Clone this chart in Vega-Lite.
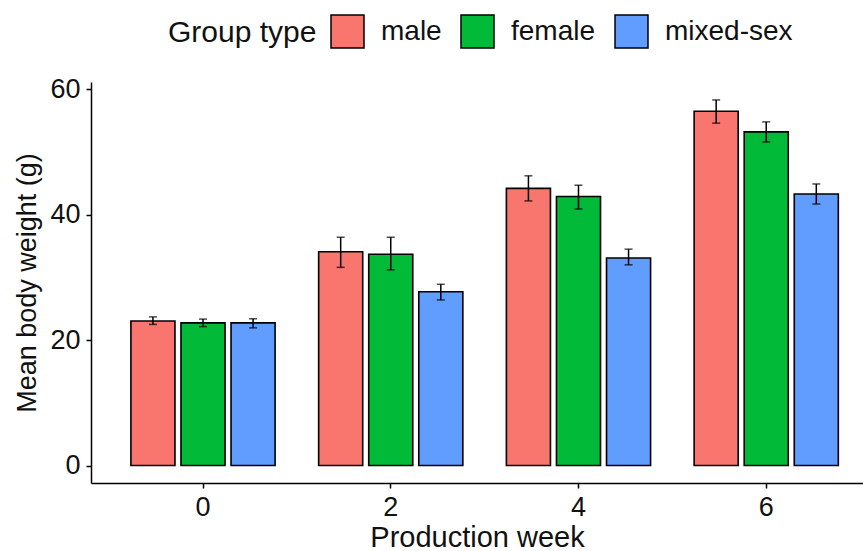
{
  "$schema": "https://vega.github.io/schema/vega-lite/v6.json",
  "autosize": {"type": "none"},
  "padding": {"left": 91, "top": 82, "right": 0, "bottom": 68},
  "width": 772,
  "height": 401,
  "background": "white",
  "config": {
    "view": {"stroke": null},
    "font": "Liberation Sans",
    "axis": {"grid": false, "domainColor": "black", "domainWidth": 1.5, "tickColor": "black", "tickWidth": 1.5, "tickSize": 5, "labelColor": "#111111", "titleColor": "#111111", "labelFont": "Liberation Sans", "titleFont": "Liberation Sans", "titleFontWeight": "normal"}
  },
  "data": {
    "values": [
      {"week": "0", "group": "male", "mean": 23.05, "lo": 22.5, "hi": 23.7},
      {"week": "0", "group": "female", "mean": 22.75, "lo": 22.15, "hi": 23.35},
      {"week": "0", "group": "mixed-sex", "mean": 22.75, "lo": 21.95, "hi": 23.4},
      {"week": "2", "group": "male", "mean": 34.1, "lo": 31.6, "hi": 36.4},
      {"week": "2", "group": "female", "mean": 33.7, "lo": 31.2, "hi": 36.4},
      {"week": "2", "group": "mixed-sex", "mean": 27.7, "lo": 26.4, "hi": 28.9},
      {"week": "4", "group": "male", "mean": 44.2, "lo": 42.2, "hi": 46.2},
      {"week": "4", "group": "female", "mean": 42.9, "lo": 40.9, "hi": 44.7},
      {"week": "4", "group": "mixed-sex", "mean": 33.1, "lo": 32.0, "hi": 34.5},
      {"week": "6", "group": "male", "mean": 56.5, "lo": 54.6, "hi": 58.3},
      {"week": "6", "group": "female", "mean": 53.2, "lo": 51.6, "hi": 54.8},
      {"week": "6", "group": "mixed-sex", "mean": 43.3, "lo": 41.7, "hi": 44.9}
    ]
  },
  "encoding": {
    "x": {
      "field": "week", "type": "nominal", "sort": ["0", "2", "4", "6"],
      "scale": {"paddingInner": 0.2, "paddingOuter": 0.156, "align": 0.63},
      "axis": {"title": "Production week", "labelAngle": 0, "labelFontSize": 27, "titleFontSize": 29, "labelPadding": 6, "titlePadding": 3}
    },
    "xOffset": {
      "field": "group", "type": "nominal", "sort": ["male", "female", "mixed-sex"],
      "scale": {"paddingInner": 0.12, "paddingOuter": 0.06}
    }
  },
  "layer": [
    {
      "mark": {"type": "bar", "stroke": "black", "strokeWidth": 1.6},
      "encoding": {
        "y": {
          "field": "mean", "type": "quantitative",
          "scale": {"domain": [-2.79, 61.16], "nice": false, "zero": false},
          "axis": {"title": "Mean body weight (g)", "values": [0, 20, 40, 60], "labelFontSize": 27, "titleFontSize": 27, "labelPadding": 6, "titlePadding": 8}
        },
        "y2": {"datum": 0},
        "color": {
          "field": "group", "type": "nominal", "sort": ["male", "female", "mixed-sex"],
          "scale": {"domain": ["male", "female", "mixed-sex"], "range": ["#F8766D", "#00BA38", "#619CFF"]},
          "legend": {
            "title": "Group type", "orient": "none", "legendX": 77, "legendY": -68,
            "direction": "horizontal", "titleOrient": "left", "titleFontSize": 30, "titleFont": "Liberation Sans", "titleFontWeight": "normal", "titleColor": "#111111", "titlePadding": 13, "titleBaseline": "middle", "titleAnchor": "middle",
            "labelFontSize": 28, "labelFont": "Liberation Sans", "labelColor": "#111111", "labelOffset": 16, "columnPadding": 16,
            "symbolType": "square", "symbolSize": 1089, "symbolStrokeColor": "black", "symbolStrokeWidth": 1.5, "symbolOpacity": 1
          }
        }
      }
    },
    {
      "mark": {"type": "rule", "color": "black", "strokeWidth": 1.5},
      "encoding": {
        "y": {"field": "lo", "type": "quantitative"},
        "y2": {"field": "hi"}
      }
    },
    {
      "mark": {"type": "tick", "color": "black", "thickness": 1.5, "size": 8},
      "encoding": {"y": {"field": "lo", "type": "quantitative"}}
    },
    {
      "mark": {"type": "tick", "color": "black", "thickness": 1.5, "size": 8},
      "encoding": {"y": {"field": "hi", "type": "quantitative"}}
    }
  ]
}
